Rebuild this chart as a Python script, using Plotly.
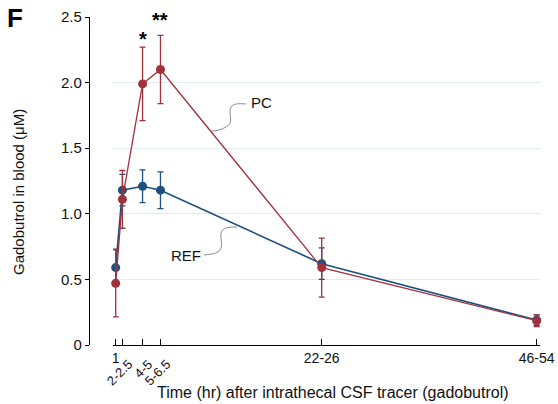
import plotly.graph_objects as go

# ---------------- data ----------------
time_pos = [1, 1.75, 4, 6, 24, 48]
tick_labels = ["1", "2-2.5", "4-5", "5-6.5", "22-26", "46-54"]
rotated = [False, True, True, True, False, False]

ref_mean = [0.59, 1.18, 1.21, 1.18, 0.62, 0.19]
ref_err = [0.14, 0.12, 0.125, 0.14, 0.12, 0.04]
pc_mean = [0.47, 1.11, 1.99, 2.10, 0.59, 0.185]
pc_err = [0.255, 0.22, 0.28, 0.26, 0.225, 0.045]

sig_pos = [4, 6]
sig_text = ["*", "**"]
sig_y = [2.33, 2.48]

y_ticks = [0, 0.5, 1.0, 1.5, 2.0, 2.5]
y_ticklabels = ["0", "0.5", "1.0", "1.5", "2.0", "2.5"]

RED = "#a0313d"
BLUE = "#1d4f7f"
FONT = "Liberation Sans, Arial, sans-serif"

W, H = 558, 404
# reference-pixel layout
AX_Y_PX = 89      # y axis line
X0_PX = 113       # x axis start
X1_PX = 540       # x axis end
TOP_PX = 17
BOT_PX = 345

ML = AX_Y_PX
MT = TOP_PX
MR = W - X1_PX
MB = H - BOT_PX
plot_w = W - ML - MR
plot_h = H - MT - MB
XR = [0.70, 48.37]
YR = [0, 2.5]
x_dom0 = (X0_PX - AX_Y_PX) / plot_w


def px2data(px, py):
    xd = XR[0] + (px - X0_PX) / (X1_PX - X0_PX) * (XR[1] - XR[0])
    yd = YR[0] + (BOT_PX - py) / (BOT_PX - TOP_PX) * (YR[1] - YR[0])
    return xd, yd


def px2paper(px, py):
    return (px - AX_Y_PX) / plot_w, (BOT_PX - py) / plot_h


def path_from_px(cmds):
    out = []
    for c in cmds:
        if isinstance(c, str):
            out.append(c)
        else:
            xd, yd = px2data(*c)
            out.append(f"{xd:.4f},{yd:.4f}")
    return " ".join(out)


fig = go.Figure()

fig.add_trace(go.Scatter(
    x=time_pos, y=ref_mean, mode="lines+markers", name="REF",
    line=dict(color=BLUE, width=1.6),
    marker=dict(color=BLUE, size=9),
    error_y=dict(type="data", array=ref_err, color=BLUE, thickness=1.3, width=3),
    cliponaxis=False,
))
fig.add_trace(go.Scatter(
    x=time_pos, y=pc_mean, mode="lines+markers", name="PC",
    line=dict(color=RED, width=1.3),
    marker=dict(color=RED, size=9),
    error_y=dict(type="data", array=pc_err, color=RED, thickness=1.3, width=3),
    cliponaxis=False,
))

# significance stars
for xp, t, yv in zip(sig_pos, sig_text, sig_y):
    fig.add_annotation(x=xp, y=yv, text=f"<b>{t}</b>", showarrow=False,
                       font=dict(size=20, color="black", family=FONT),
                       xanchor="center", yanchor="middle")

# rotated tick labels
_, ylab = px2paper(0, 354)
for xp, lab, rot in zip(time_pos, tick_labels, rotated):
    if rot:
        fig.add_annotation(x=xp, y=ylab, xref="x", yref="paper",
                           text=lab, showarrow=False, textangle=-45,
                           xanchor="right", yanchor="top", xshift=16,
                           font=dict(size=13, color="#111", family=FONT))

# series labels
lx, ly = px2data(261, 102)
fig.add_annotation(x=lx, y=ly, text="PC", showarrow=False,
                   font=dict(size=15, color="#111", family=FONT))
lx, ly = px2data(186, 255)
fig.add_annotation(x=lx, y=ly, text="REF", showarrow=False,
                   font=dict(size=15, color="#111", family=FONT))

# connectors
pc_path = path_from_px(["M", (246, 104), "C", (236, 103), (230, 104), (230, 111),
                        "C", (230, 119), (233, 123), (226, 127),
                        "C", (221, 130), (216, 131), (211, 131)])
ref_path = path_from_px(["M", (204, 255), "C", (214, 254), (219, 253), (221, 248),
                         "C", (223, 242), (219, 236), (222, 231),
                         "C", (225, 227), (230, 227), (237, 227)])
for p in (pc_path, ref_path):
    fig.add_shape(type="path", path=p, xref="x", yref="y",
                  line=dict(color="#8a8a8a", width=1))

# panel letter
fx, fy = px2paper(15, 18)
fig.add_annotation(x=fx, y=fy, xref="paper", yref="paper",
                   text="<b>F</b>", showarrow=False, xanchor="center",
                   yanchor="middle", font=dict(size=26, color="black", family=FONT))
# axis titles
tx, ty = px2paper(333, 393)
fig.add_annotation(x=tx, y=ty, xref="paper", yref="paper",
                   text="Time (hr) after intrathecal CSF tracer (gadobutrol)",
                   showarrow=False, xanchor="center", yanchor="middle",
                   font=dict(size=16, color="#111", family=FONT))
tx, ty = px2paper(19, 192)
fig.add_annotation(x=tx, y=ty, xref="paper", yref="paper",
                   text="Gadobutrol in blood (μM)", textangle=-90,
                   showarrow=False, xanchor="center", yanchor="middle",
                   font=dict(size=15, color="#111", family=FONT))

fig.update_layout(
    width=W, height=H,
    margin=dict(l=ML, r=MR, t=MT, b=MB, autoexpand=False),
    paper_bgcolor="white", plot_bgcolor="white",
    showlegend=False,
    font=dict(family=FONT, size=14, color="#111"),
    xaxis=dict(
        domain=[x_dom0, 1], range=XR, anchor="y",
        tickmode="array", tickvals=time_pos,
        ticktext=["" if r else l for l, r in zip(tick_labels, rotated)],
        ticks="inside", ticklen=6, tickcolor="black", tickwidth=1.2,
        showline=True, linecolor="black", linewidth=1.3,
        showgrid=False, zeroline=False,
        tickfont=dict(size=14, color="#111"),
        automargin=False,
    ),
    yaxis=dict(
        range=YR, anchor="free", position=0,
        tickmode="array", tickvals=y_ticks, ticktext=y_ticklabels,
        ticks="outside", ticklen=4, tickcolor="black", tickwidth=1.2,
        showline=True, linecolor="black", linewidth=1.3,
        showgrid=True, gridcolor="#e2ebf1", gridwidth=1.2,
        zeroline=False,
        tickfont=dict(size=15, color="#111"),
        automargin=False,
    ),
)

fig.write_html("out.html", config={"displayModeBar": False},
               post_script="document.body.style.margin='0';document.body.style.overflow='hidden';")
